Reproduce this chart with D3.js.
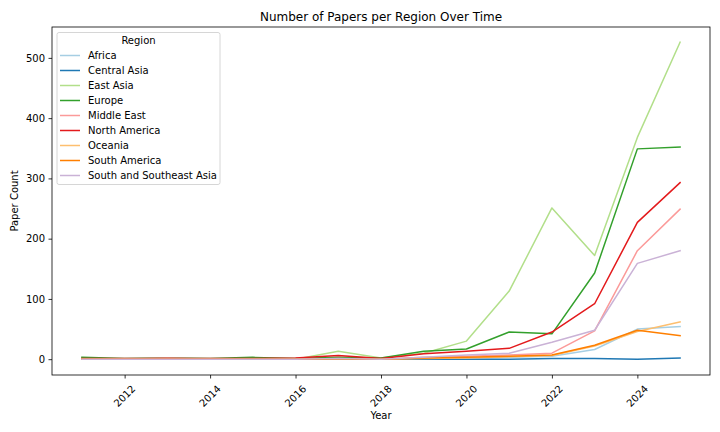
<!DOCTYPE html>
<html><head><meta charset="utf-8">
<script src="https://cdn.jsdelivr.net/npm/d3@7"></script>
<style>body{margin:0;background:#fff}svg{display:block;font-family:"DejaVu Sans",sans-serif}</style>
</head><body><svg id="c" width="720" height="432"></svg>
<script>
const years = [2011,2012,2013,2014,2015,2016,2017,2018,2019,2020,2021,2022,2023,2024,2025];
const regions = ["Africa","Central Asia","East Asia","Europe","Middle East","North America","Oceania","South America","South and Southeast Asia"];
const africa       = [0,0,0,0,0,0,0,0,1,2,3,5,16,50,54];
const centralAsia  = [0,0,0,0,0,0,0,0,0,0,0,1,1,0,2];
const eastAsia     = [1,0,1,0,1,0,13,2,10,30,113,251,172,368,526];
const europe       = [3,1,2,1,3,1,3,2,13,17,45,42,143,349,352];
const middleEast   = [0,0,2,0,0,0,1,0,3,5,7,10,47,180,249];
const northAmerica = [1,1,1,1,1,2,6,1,9,13,18,45,92,227,293];
const oceania      = [0,0,0,0,0,0,0,0,1,2,4,6,22,46,62];
const southAmerica = [0,0,0,0,0,0,0,0,2,3,5,7,23,48,39];
const ssea         = [0,0,0,0,0,0,1,0,3,7,10,28,48,159,180];
const seriesValues = [africa,centralAsia,eastAsia,europe,middleEast,northAmerica,oceania,southAmerica,ssea];
const colors = ["#a6cee3","#1f78b4","#b2df8a","#33a02c","#fb9a99","#e31a1c","#fdbf6f","#ff7f00","#cab2d6"];
const xTicks = [2012,2014,2016,2018,2020,2022,2024];
const yTicks = [0,100,200,300,400,500];

const svg = d3.select("#c");
const L=52, R=710, T=27, B=375;
const x = d3.scaleLinear().domain([2010.3,2025.7]).range([L,R]);
const y = d3.scaleLinear().domain([-26.25,551.25]).range([B,T]);

// lines
const line = d3.line().x((d,i)=>x(years[i])).y(d=>y(d));
seriesValues.forEach((vals,k)=>{
  svg.append("path").attr("d",line(vals)).attr("fill","none")
    .attr("stroke",colors[k]).attr("stroke-width",1.5).attr("stroke-linejoin","round").attr("stroke-linecap","square");
});

// frame
svg.append("rect").attr("x",L).attr("y",T).attr("width",R-L).attr("height",B-T)
  .attr("fill","none").attr("stroke","#000").attr("stroke-width",0.8);

// x axis
const xa = svg.append("g").attr("transform",`translate(0,${B})`)
  .call(d3.axisBottom(x).tickValues(xTicks).tickSize(3.5).tickFormat(""));
xa.select(".domain").remove();
xa.selectAll(".tick line").attr("stroke","#000").attr("stroke-width",0.8);
xTicks.forEach(t=>{
  svg.append("text").attr("transform",`translate(${x(t)},${B+21}) rotate(-45)`)
    .attr("text-anchor","middle").attr("dominant-baseline","central")
    .attr("font-size",10).attr("fill","#000").text(String(t));
});
// y axis
const ya = svg.append("g").attr("transform",`translate(${L},0)`)
  .call(d3.axisLeft(y).tickValues(yTicks).tickSize(3.5).tickPadding(3.5));
ya.select(".domain").remove();
ya.selectAll(".tick line").attr("stroke","#000").attr("stroke-width",0.8);
ya.selectAll(".tick text").attr("font-size",10).attr("fill","#000").attr("font-family","DejaVu Sans");

// labels
svg.append("text").attr("x",(L+R)/2).attr("y",T-6).attr("text-anchor","middle").attr("font-size",12).attr("fill","#000").text("Number of Papers per Region Over Time");
svg.append("text").attr("x",(L+R)/2).attr("y",419).attr("text-anchor","middle").attr("font-size",10).attr("fill","#000").text("Year");
svg.append("text").attr("transform",`translate(18,${(T+B)/2}) rotate(-90)`).attr("text-anchor","middle").attr("font-size",10).attr("fill","#000").text("Paper Count");

// legend
const lg = svg.append("g");
lg.append("rect").attr("x",57).attr("y",32.5).attr("width",163).attr("height",152).attr("rx",2)
  .attr("fill","#fff").attr("fill-opacity",0.8).attr("stroke","#cccccc").attr("stroke-width",0.8);
lg.append("text").attr("x",138.5).attr("y",44).attr("text-anchor","middle").attr("font-size",10).attr("fill","#000").text("Region");
regions.forEach((r,i)=>{
  const yy = 55.5 + i*15;
  lg.append("line").attr("x1",60).attr("x2",80).attr("y1",yy).attr("y2",yy).attr("stroke",colors[i]).attr("stroke-width",1.5);
  lg.append("text").attr("x",88).attr("y",yy+3.5).attr("font-size",10).attr("fill","#000").text(r);
});
</script></body></html>
